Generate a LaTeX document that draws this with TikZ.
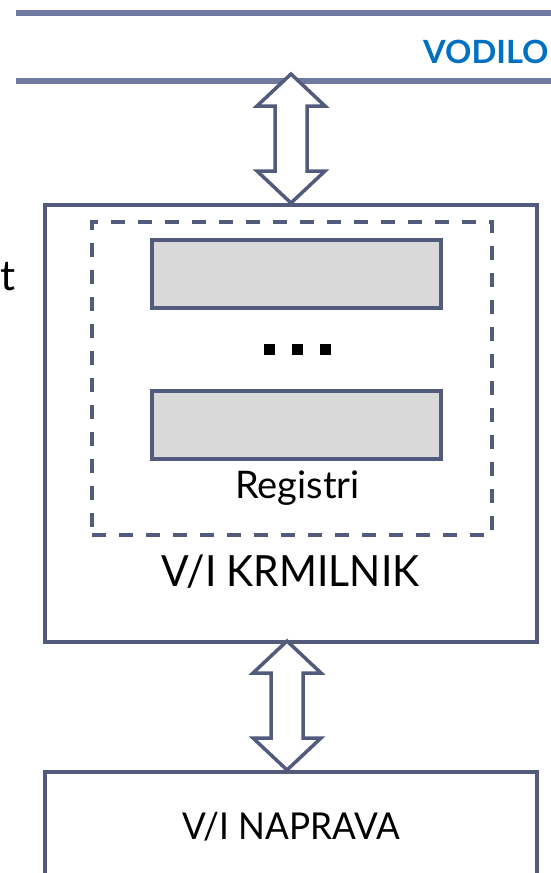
\documentclass[tikz,border=0pt]{standalone}
\usepackage{fontspec}
\setmainfont{Lato}
\usetikzlibrary{calc}

\definecolor{rob}{HTML}{525B7C}
\definecolor{vodilocrta}{HTML}{7079A0}
\definecolor{vodilomodra}{HTML}{0070C0}
\definecolor{siva}{HTML}{D9D9D9}

\tikzset{
	okvir/.style={draw=rob, line width=4pt, minimum width=492pt, inner sep=0pt},
	crtkano/.style={draw=rob, line width=4pt, dash pattern=on 14pt off 13pt, minimum width=400pt, minimum height=313pt, inner sep=0pt},
	register/.style={draw=rob, fill=siva, line width=4pt, minimum width=289pt, minimum height=68pt, inner sep=0pt},
	tocka/.style={fill=black, minimum size=11pt, inner sep=0pt},
	puscica/.style={draw=rob, line width=3.5pt, fill=white, line join=miter},
	napis/.style={inner sep=0pt, anchor=base}
}

\begin{document}
\begin{tikzpicture}[x=1pt, y=-1pt]
		\useasboundingbox (0,0) rectangle (550,873);
		
		% Vodilo
		\draw[vodilocrta, line width=6pt] (16,13) -- (560,13);
		\draw[vodilocrta, line width=6pt] (16,81) -- (560,81);
		\node[napis, anchor=base west, text=vodilomodra] (vodilo) at (423,63)
			{\fontsize{32}{32}\selectfont\scalebox{1.02}[1]{\bfseries VODILO}};
		\node[napis, anchor=base west] (t) at (0.5,290) {\fontsize{42}{42}\selectfont t};
		
		% V/I krmilnik
		\node[okvir, minimum height=437pt] (krmilnik) at (291,423.5) {};
		\node[crtkano] (registri) at (292,378.5) {};
		\node[register] (regA) at (296.5,273.75) {};
		\node[register] (regB) at (296.5,424.5) {};
		\foreach \x [count=\i] in {269,297,325.5}
			\node[tocka] (tocka\i) at (\x,349) {};
		\node[napis] (regnapis) at (297.5,498) {\fontsize{38}{38}\selectfont Registri};
		\node[napis] (krmnapis) at (290.5,586) {\fontsize{43}{43}\selectfont\scalebox{0.95}[1]{V/I KRMILNIK}};
		
		% V/I naprava
		\node[okvir, minimum height=120pt] (naprava) at (291,832) {};
		\node[napis] (napnapis) at (291,839) {\fontsize{37}{37}\selectfont\scalebox{0.95}[1]{V/I NAPRAVA}};
		
		% Dvosmerni puscici
		\draw[puscica] (krmilnik.north) -- ++(-34,-32) -- ++(18,0) -- ++(0,-65) -- ++(-18,0)
			-- ++(34,-32) -- ++(34,32) -- ++(-18,0) -- ++(0,65) -- ++(18,0) -- cycle;
		\draw[puscica] ($(naprava.north)+(-4,0)$) -- ++(-34,-32) -- ++(18,0) -- ++(0,-65) -- ++(-18,0)
			-- ++(34,-32) -- ++(34,32) -- ++(-18,0) -- ++(0,65) -- ++(18,0) -- cycle;
		
	\end{tikzpicture}
\end{document}
